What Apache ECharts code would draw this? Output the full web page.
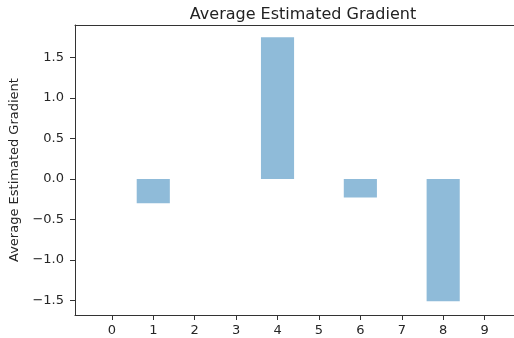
<!DOCTYPE html>
<html>
<head>
<meta charset="utf-8">
<script src="https://cdn.jsdelivr.net/npm/echarts@6/dist/echarts.min.js"></script>
<style>
  html, body { margin: 0; padding: 0; background: #fff; }
  #chart { width: 514px; height: 338px; }
</style>
</head>
<body>
<div id="chart"></div>
<script>
// Mean estimated gradient per component index
const categories = [0, 1, 2, 3, 4, 5, 6, 7, 8, 9];
const gradientValues = [0, -0.30, 0, 0, 1.75, 0, -0.23, 0, -1.51, 0];
const yTickValues = [-1.5, -1.0, -0.5, 0.0, 0.5, 1.0, 1.5];

const FONT = 'DejaVu Sans';
const INK = '#333333';
const BAR_WIDTH_UNITS = 0.8;

const fmt = v => v.toFixed(1).replace('-', '\u2212');

const chart = echarts.init(document.getElementById('chart'), null, { renderer: 'canvas' });

const option = {
  animation: false,
  backgroundColor: '#ffffff',
  title: {
    text: 'Average Estimated Gradient',
    left: 298,
    textAlign: 'center',
    top: 2,
    textStyle: { fontFamily: FONT, fontSize: 16, fontWeight: 'normal', color: '#222' }
  },
  grid: { left: 75, top: 25, bottom: 23, right: 0, containLabel: false, show: false },
  xAxis: [{
    type: 'value',
    min: -0.89,
    max: 9.71,
    splitLine: { show: false },
    axisLine: { show: true, onZero: false, lineStyle: { color: INK, width: 1 } },
    axisTick: { show: true, length: 5, lineStyle: { color: INK, width: 1 }, customValues: categories },
    axisLabel: { fontFamily: FONT, fontSize: 13, color: '#262626', margin: 9,
                 customValues: categories, formatter: v => String(v) }
  }, {
    // top frame line
    type: 'value',
    position: 'top',
    min: -0.89,
    max: 9.71,
    splitLine: { show: false },
    axisLine: { show: true, onZero: false, lineStyle: { color: INK, width: 1 } },
    axisTick: { show: false },
    axisLabel: { show: false }
  }],
  yAxis: {
    type: 'value',
    min: -1.68,
    max: 1.9,
    name: 'Average Estimated Gradient',
    nameLocation: 'middle',
    nameGap: 47,
    nameTextStyle: { fontFamily: FONT, fontSize: 13, color: '#262626' },
    splitLine: { show: false },
    axisLine: { show: true, onZero: false, lineStyle: { color: INK, width: 1 } },
    axisTick: { show: true, length: 5, lineStyle: { color: INK, width: 1 }, customValues: yTickValues },
    axisLabel: { fontFamily: FONT, fontSize: 13, color: '#262626', margin: 11,
                 customValues: yTickValues, formatter: fmt }
  },
  series: [{
    type: 'bar',
    xAxisIndex: 0,
    data: categories.map((c, i) => [c, gradientValues[i]]),
    barWidth: 33,
    itemStyle: { color: '#8fbbd9' },
    silent: true
  }]
};

chart.setOption(option);

// Size the bars to 0.8 data units using the x axis scale
const x0 = chart.convertToPixel({ xAxisIndex: 0 }, 0);
const x1 = chart.convertToPixel({ xAxisIndex: 0 }, BAR_WIDTH_UNITS);
chart.setOption({ series: [{ barWidth: Math.abs(x1 - x0) }] });
</script>
</body>
</html>
